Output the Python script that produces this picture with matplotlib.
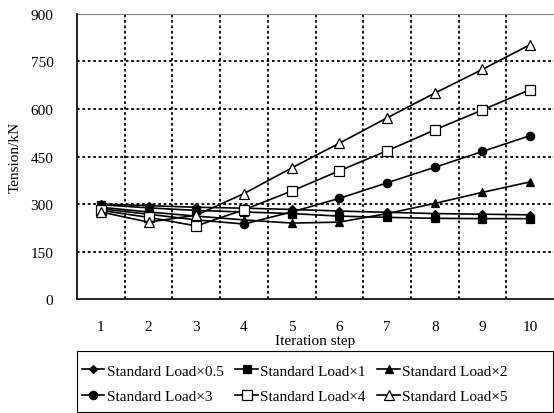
import matplotlib

matplotlib.use("Agg")
import matplotlib.pyplot as plt
from matplotlib.patches import Rectangle

plt.rcParams["font.family"] = ["Liberation Serif", "DejaVu Serif"]
plt.rcParams["font.size"] = 11

steps = [1, 2, 3, 4, 5, 6, 7, 8, 9, 10]

load_x05 = [300, 295, 290, 287, 283, 278, 274, 270, 268, 266]
load_x1 = [298, 288, 280, 275, 270, 262, 258, 255, 254, 254]
load_x2 = [290, 275, 262, 250, 240, 243, 270, 302, 337, 370]
load_x3 = [285, 268, 250, 237, 275, 318, 367, 416, 466, 516]
load_x4 = [280, 258, 231, 282, 341, 405, 468, 534, 597, 661]
load_x5 = [275, 243, 265, 333, 414, 492, 572, 650, 725, 803]

series = [
    ("Standard Load×0.5", load_x05, "D", "black", 4.5),
    ("Standard Load×1", load_x1, "s", "black", 5.5),
    ("Standard Load×2", load_x2, "^", "black", 6),
    ("Standard Load×3", load_x3, "o", "black", 6),
    ("Standard Load×4", load_x4, "s", "white", 6.5),
    ("Standard Load×5", load_x5, "^", "white", 6.5),
]

fig = plt.figure(figsize=(5.54, 4.14), dpi=100)
ax = fig.add_axes([0.139, 0.275, 0.861, 0.689])

handles = []
for label, values, marker, face, size in series:
    (line,) = ax.plot(steps, values, color="black", lw=1.2, marker=marker,
                      markersize=size, markerfacecolor=face,
                      markeredgecolor="black", markeredgewidth=0.9, label=label)
    handles.append(line)

ax.set_xlim(0.5, 10.5)
ax.set_ylim(0, 900)
ax.set_yticks(range(0, 901, 150))
ax.set_xticks(steps)

for xb in [1.5, 2.5, 3.5, 4.5, 5.5, 6.5, 7.5, 8.5, 9.5]:
    ax.axvline(xb, color="black", ls=(0, (1.5, 1.5)), lw=1.3, zorder=0)
for yv in range(150, 901, 150):
    ax.axhline(yv, color="black", ls=(0, (1.5, 1.5)), lw=1.3, zorder=0)
ax.axhline(900, color="0.5", lw=0.8, zorder=0)

for side in ["top", "right"]:
    ax.spines[side].set_visible(False)
ax.spines["left"].set_linewidth(1.2)
ax.spines["bottom"].set_linewidth(1.2)
ax.tick_params(axis="x", length=0, pad=15, labelsize=11)
ax.tick_params(axis="y", length=0, pad=17, labelsize=11)

ax.set_ylabel("Tension/kN", fontsize=11, labelpad=6)
ax.set_xlabel("Iteration step", fontsize=11, labelpad=1)

# legend box spans the plot width; entries packed from the left
fig.patches.append(Rectangle((0.139, 0.003), 0.859, 0.146, transform=fig.transFigure,
                             fill=False, edgecolor="black", lw=0.8))

# legend fills row by row: reorder for matplotlib's column-major layout
order = [0, 3, 1, 4, 2, 5]
fig.legend([handles[i] for i in order], [series[i][0] for i in order],
           loc="upper left", bbox_to_anchor=(0.132, 0.139),
           borderaxespad=0, ncol=3, fontsize=11, frameon=False,
           handlelength=1.5, handletextpad=0.15, columnspacing=0.75,
           borderpad=0.55, labelspacing=0.8)

fig.savefig("out.png", dpi=100)
